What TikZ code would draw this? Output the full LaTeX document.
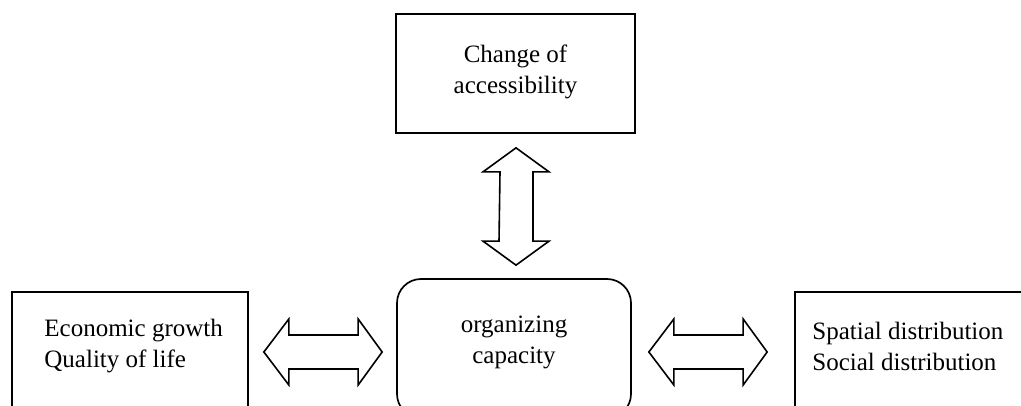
\documentclass[tikz,border=0pt]{standalone}
\usepackage{fontspec}
\setmainfont{Liberation Serif}
\usetikzlibrary{calc}
\begin{document}
\begin{tikzpicture}[x=0.5pt,y=-0.5pt,
  box/.style={draw, line width=0.85pt, inner sep=0pt},
  txt/.style={font=\fontsize{12.5}{15.5}\selectfont, inner sep=0pt},
  dblarrow/.style={draw, line width=0.8pt, line join=miter}]
\useasboundingbox (0,0) rectangle (1021,406);
\clip (0,0) rectangle (1021,406);
% boxes
\node[box, minimum width=119.5pt, minimum height=59.5pt] (top) at (515.5,73.5) {};
\node[box, rounded corners=12pt, minimum width=117pt, minimum height=69.5pt] (ctr) at (514,348.5) {};
\node[box, minimum width=118pt, minimum height=69pt] (left) at (130,361) {};
\node[box, minimum width=125pt, minimum height=69pt] (right) at (920,361) {};
% texts
\node[txt, align=center] (toptxt) at (515.5,72) {Change of\\accessibility};
\node[txt, align=center] (ctrtxt) at (514,342) {organizing\\capacity};
\node[txt, align=left, anchor=west] (lefttxt) at (44,346) {Economic growth\\Quality of life};
\node[txt, align=left, anchor=west] (righttxt) at (812,346) {Spatial distribution\\Social distribution};
% vertical double arrow
\coordinate (v1) at ($(top.south)+(0.5,14)$);
\coordinate (v2) at ($(ctr.north)+(2,-13)$);
\draw[dblarrow] (v1) -- ++(33,24) -- ++(-16,0) -- ($(v2)+(17,-24)$) -- ++(16,0) -- (v2)
  -- ++(-33,-24) -- ++(16,0) -- ($(v1)+(-16,24)$) -- ++(-17,0) -- cycle;
% left double arrow
\coordinate (h1) at ($(left.east)+(15,-9)$);
\coordinate (h2) at ($(ctr.west)+(-14,3.5)$);
\draw[dblarrow] (h1) -- ++(25,-33) -- ++(0,16) -- ($(h2)+(-24,-17)$) -- ++(0,-16) -- (h2)
  -- ++(-24,33) -- ++(0,-16) -- ($(h1)+(25,17)$) -- ++(0,16) -- cycle;
% right double arrow
\coordinate (r1) at ($(ctr.east)+(17,3.5)$);
\coordinate (r2) at ($(right.west)+(-27,-9)$);
\draw[dblarrow] (r1) -- ++(25,-33) -- ++(0,16) -- ($(r2)+(-24,-17)$) -- ++(0,-16) -- (r2)
  -- ++(-24,33) -- ++(0,-16) -- ($(r1)+(25,17)$) -- ++(0,16) -- cycle;
\end{tikzpicture}
\end{document}
